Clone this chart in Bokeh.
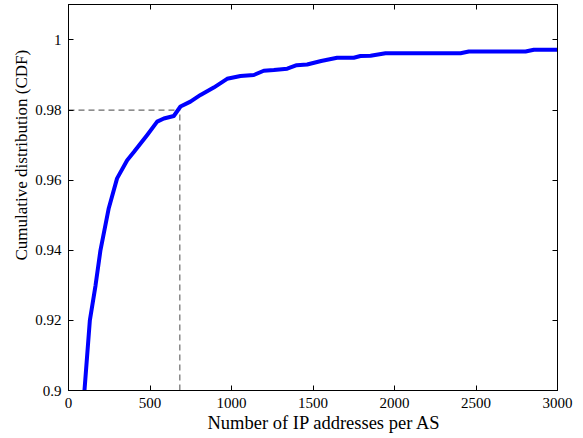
from bokeh.plotting import figure
from bokeh.models import LinearAxis, Range1d, FixedTicker, Title, CustomLabelingPolicy
from bokeh.embed import file_html
from bokeh.resources import INLINE

# ---- data ----
ip_per_as = [98, 131, 166, 196, 247, 298, 360, 401, 483, 544, 585, 646, 687, 748,
             810, 891, 973, 1055, 1137, 1198, 1260, 1342, 1400, 1464, 1550, 1648,
             1750, 1791, 1853, 1945, 2405, 2456, 2804, 2855, 3000]
cdf = [0.900, 0.920, 0.930, 0.940, 0.952, 0.9605, 0.9657, 0.968, 0.9729, 0.9767,
       0.9776, 0.9783, 0.981, 0.9824, 0.9843, 0.9864, 0.9889, 0.9897, 0.9900,
       0.9912, 0.9914, 0.9918, 0.9928, 0.9930, 0.9940, 0.9949, 0.9949, 0.9954,
       0.9955, 0.9962, 0.9962, 0.9967, 0.9967, 0.9972, 0.9972]
ref_x = 683
ref_y = 0.98
x_ticks = [0, 500, 1000, 1500, 2000, 2500, 3000]
y_ticks = [0.9, 0.92, 0.94, 0.96, 0.98, 1.0]
y_tick_labels = {0.9: "0.9", 0.92: "0.92", 0.94: "0.94", 0.96: "0.96", 0.98: "0.98", 1.0: "1"}
x_label = "Number of IP addresses per AS"
y_label = "Cumulative distribution (CDF)"

FONT = "Liberation Serif"

p = figure(frame_width=489, frame_height=386,
           x_range=Range1d(0, 3000), y_range=Range1d(0.9, 1.0101),
           output_backend="svg", toolbar_location=None,
           min_border_left=68, min_border_right=18, min_border_top=4,
           min_border_bottom=46, x_axis_location=None, y_axis_location=None)
p.grid.visible = False
p.outline_line_color = "black"
p.outline_line_width = 1
p.background_fill_color = "white"
p.border_fill_color = "white"

hide_all = CustomLabelingPolicy(code="""
    for (const i of indices) indices.unset(i)
    return indices
""")

def style(ax, show_labels):
    ax.axis_line_color = "black"
    ax.axis_line_width = 1
    ax.major_tick_in = 5
    ax.major_tick_out = 0
    ax.minor_tick_in = 0
    ax.minor_tick_out = 0
    ax.major_tick_line_color = "black"
    ax.major_label_text_font = FONT
    ax.major_label_text_color = "black"
    if show_labels:
        ax.major_label_text_font_size = "15px"
        ax.major_label_standoff = 7
    else:
        ax.major_label_text_font_size = "1px"
        ax.major_label_standoff = 0
        ax.major_label_policy = hide_all

xb = LinearAxis(ticker=FixedTicker(ticks=x_ticks))
style(xb, True)
p.add_layout(xb, "below")
xt = LinearAxis(ticker=FixedTicker(ticks=x_ticks))
style(xt, False)
p.add_layout(xt, "above")
yl = LinearAxis(ticker=FixedTicker(ticks=y_ticks), major_label_overrides=y_tick_labels)
style(yl, True)
p.add_layout(yl, "left")
yr = LinearAxis(ticker=FixedTicker(ticks=y_ticks))
style(yr, False)
p.add_layout(yr, "right")

# reference dashed lines
p.line([0, ref_x], [ref_y, ref_y], line_color="#6a6a6a", line_width=1.2, line_dash="6 4")
p.line([ref_x, ref_x], [0.9, ref_y], line_color="#6a6a6a", line_width=1.2, line_dash="6 4")

# CDF curve
p.line(ip_per_as, cdf, line_color="#0000ff", line_width=4, line_join="round")

# axis labels as side titles (allows off-centre placement like the original)
p.add_layout(Title(text=x_label, align="left", offset=139, standoff=0,
                   text_font=FONT, text_font_size="18.5px", text_font_style="normal",
                   text_color="black"), "below")
p.add_layout(Title(text=y_label, align="left", offset=130, standoff=3,
                   text_font=FONT, text_font_size="17px", text_font_style="normal",
                   text_color="black"), "left")

open("out.html", "w").write(file_html(p, INLINE))
